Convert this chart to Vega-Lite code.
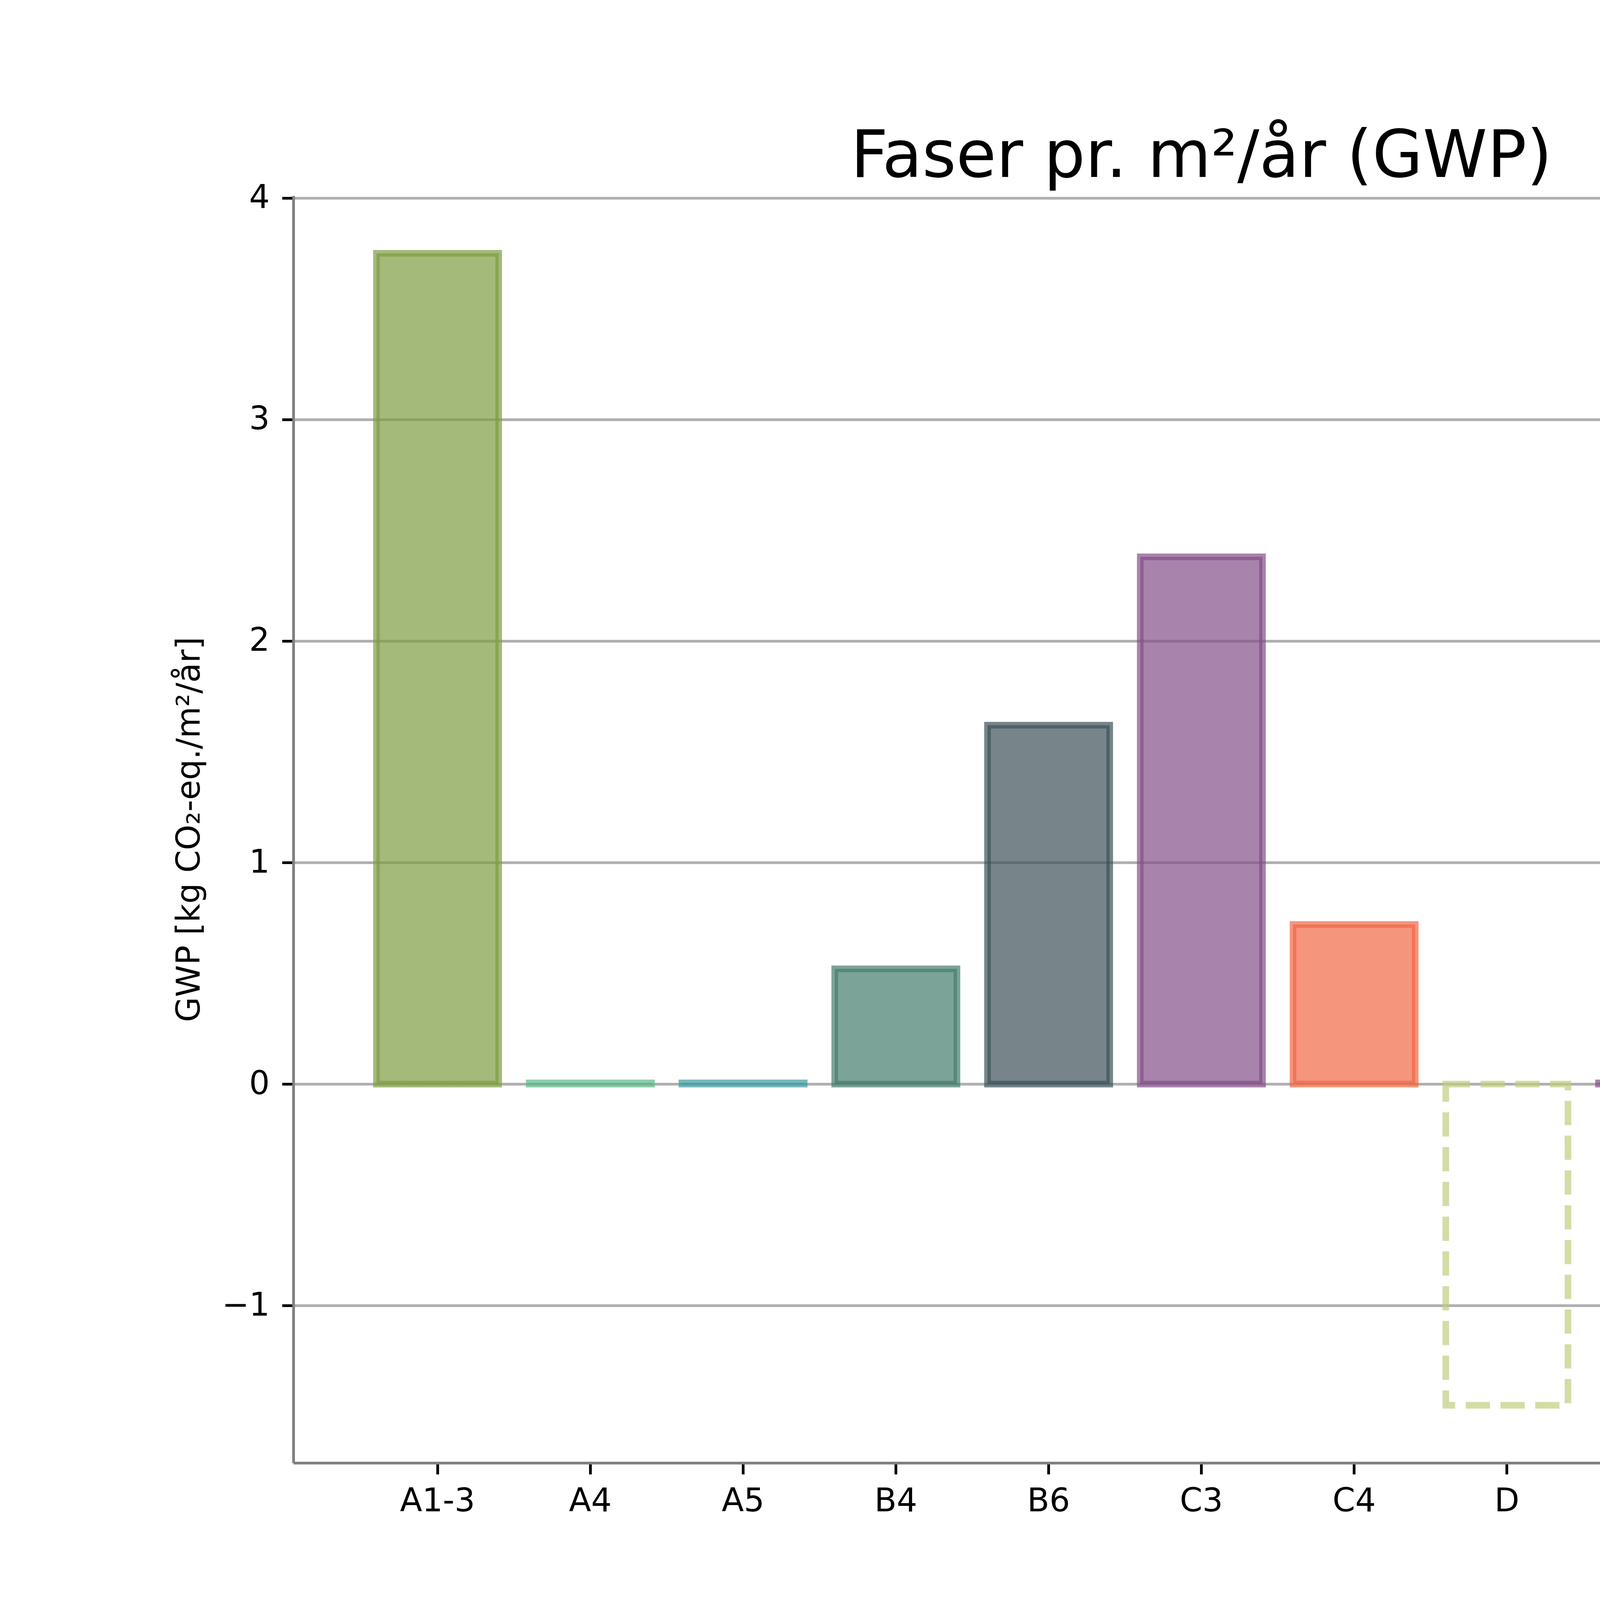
{
  "$schema": "https://vega.github.io/schema/vega-lite/v6.json",
  "title": {"text": "Faser pr. m²/år (GWP)", "fontSize": 167, "font": "DejaVu Sans", "fontWeight": "normal", "color": "#000000", "anchor": "middle", "frame": "group", "offset": -22},
  "width": 6000,
  "height": 4200,
  "autosize": {"type": "fit", "contains": "padding"},
  "padding": {"left": 444, "top": 320, "right": 600, "bottom": 315},
  "background": "#ffffff",
  "config": {"view": {"stroke": null}, "font": "DejaVu Sans"},
  "data": {
    "values": [
      {"fase": "A1-3", "gwp": 3.75, "dashed": false},
      {"fase": "A4", "gwp": 0.005, "dashed": false},
      {"fase": "A5", "gwp": 0.005, "dashed": false},
      {"fase": "B4", "gwp": 0.52, "dashed": false},
      {"fase": "B6", "gwp": 1.62, "dashed": false},
      {"fase": "C3", "gwp": 2.38, "dashed": false},
      {"fase": "C4", "gwp": 0.72, "dashed": false},
      {"fase": "D", "gwp": -1.45, "dashed": true},
      {"fase": "ExC3", "gwp": 0.005, "dashed": false},
      {"fase": "ExC4", "gwp": 0.005, "dashed": false},
      {"fase": "ExD", "gwp": 0.005, "dashed": false}
    ]
  },
  "mark": {"type": "bar", "strokeWidth": 17, "strokeOpacity": 0.7},
  "encoding": {
    "x": {
      "field": "fase",
      "type": "nominal",
      "sort": null,
      "scale": {"paddingInner": 0.2, "paddingOuter": 0.544},
      "axis": {
        "title": null, "labelAngle": 0, "labelFontSize": 83, "labelColor": "#000000", "labelPadding": 28, "labelLimit": 1000,
        "tickColor": "#000000", "tickSize": 29, "tickWidth": 7,
        "domainColor": "#808080", "domainWidth": 7, "grid": false
      }
    },
    "y": {
      "field": "gwp",
      "type": "quantitative",
      "scale": {"domain": [-1.71, 4.01], "nice": false, "zero": false},
      "axis": {
        "title": "GWP [kg CO₂-eq./m²/år]", "titleFontSize": 83, "titleFontWeight": "normal", "titleColor": "#000000", "titlePadding": 40, "titleLimit": 5000,
        "values": [-1, 0, 1, 2, 3, 4], "labelFontSize": 83, "labelColor": "#000000", "labelPadding": 32, "labelLimit": 1000,
        "tickColor": "#000000", "tickSize": 29, "tickWidth": 7,
        "domainColor": "#808080", "domainWidth": 7,
        "grid": true, "gridColor": "#b0b0b0", "gridWidth": 7
      }
    },
    "y2": {"datum": 0},
    "color": {
      "field": "fase",
      "type": "nominal",
      "legend": null,
      "scale": {
        "domain": ["A1-3", "A4", "A5", "B4", "B6", "C3", "C4", "D", "ExC3", "ExC4", "ExD"],
        "range": ["#7d9c41", "#5db886", "#3a9aa0", "#457c6c", "#3d5159", "#834e87", "#ef6844", "#c2cd80", "#834e87", "#ef6844", "#c2cd80"]
      }
    },
    "stroke": {
      "field": "fase",
      "type": "nominal",
      "legend": null,
      "scale": {
        "domain": ["A1-3", "A4", "A5", "B4", "B6", "C3", "C4", "D", "ExC3", "ExC4", "ExD"],
        "range": ["#7d9c41", "#5db886", "#3a9aa0", "#457c6c", "#3d5159", "#834e87", "#ef6844", "#c2cd80", "#834e87", "#ef6844", "#c2cd80"]
      }
    },
    "fillOpacity": {"condition": {"test": "datum.dashed", "value": 0}, "value": 0.7},
    "strokeDash": {"condition": {"test": "datum.dashed", "value": [62, 27]}, "value": [1, 0]}
  }
}
